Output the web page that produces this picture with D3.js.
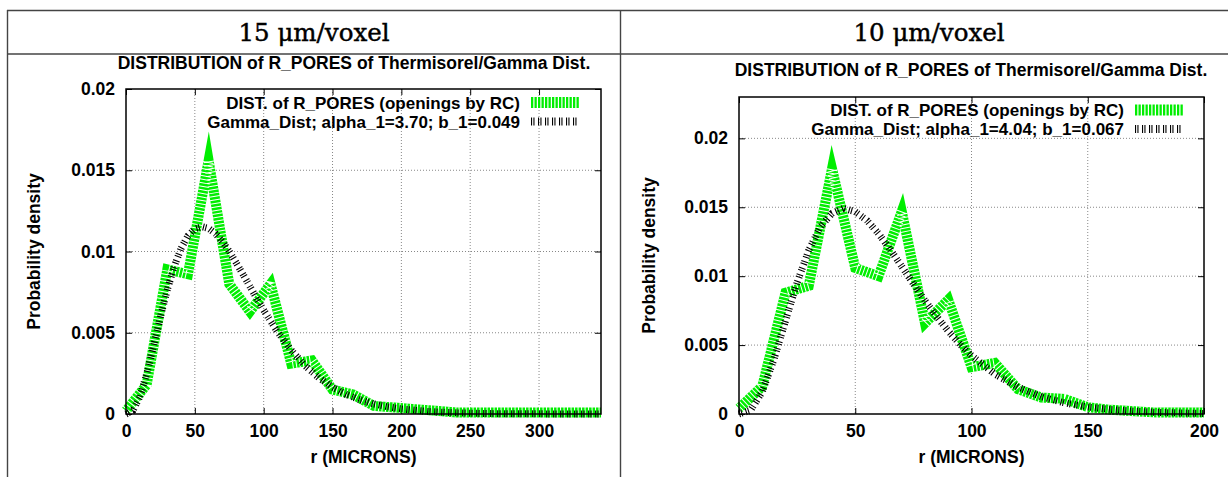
<!DOCTYPE html>
<html><head><meta charset="utf-8">
<script src="https://cdn.jsdelivr.net/npm/d3@7"></script>
<style>
body{margin:0;background:#fff;}
svg{display:block;}
.g text{font-family:"Liberation Sans",Arial,sans-serif;font-weight:bold;fill:#000;}
</style></head><body>
<svg id="c" width="1228" height="477"></svg>
<script>
// ---------- data ----------
const headers = ["15 \u03bcm/voxel", "10 \u03bcm/voxel"];
const chartTitle = "DISTRIBUTION of R_PORES of Thermisorel/Gamma Dist.";
const xLabel = "r (MICRONS)";
const yLabel = "Probability density";
const legendDist = "DIST. of R_PORES (openings by RC)";
const legendGammaL = "Gamma_Dist; alpha_1=3.70; b_1=0.049";
const legendGammaR = "Gamma_Dist; alpha_1=4.04; b_1=0.067";

// left panel (15 um/voxel)
const distX_L = [0,15,30,45,60,75,90,105,120,135,150,165,180,195,210,225,240,255,270,285,300,315,330,345];
const distY_L = [0.0002,0.0018,0.0089,0.0086,0.0156,0.0080,0.0063,0.0080,0.0031,0.0033,0.0015,0.0012,0.0005,0.0004,0.0003,0.0002,0.0001,0.0001,0.0001,0.0001,0.0001,0.0001,0.0001,0.0001];
const gamX_L = [0,5,10,15,20,25,30,35,40,45,50,55,60,65,70,75,80,85,90,95,100,110,120,130,140,150,160,170,180,190,200,220,240,260,280,300,320,345];
const gamY_L = [0,0.00021,0.00105,0.00245,0.00418,0.00597,0.00765,0.00907,0.01019,0.01097,0.01140,0.01153,0.01142,0.01110,0.01061,0.01000,0.00931,0.00859,0.00785,0.00711,0.00639,0.00506,0.00393,0.00298,0.00223,0.00165,0.00120,0.00087,0.00062,0.00044,0.00031,0.00015,0.00007,0.00003,0.00001,0.00001,0,0];
const xTicks_L = [0,50,100,150,200,250,300];
const yTicks_L = [0,0.005,0.01,0.015,0.02];

// right panel (10 um/voxel)
const distX_R = [0,10,20,30,40,50,60,70,80,90,100,110,120,130,140,150,160,170,180,190,200];
const distY_R = [0.0004,0.0020,0.0088,0.0093,0.0178,0.0106,0.0100,0.0147,0.0066,0.0083,0.0034,0.0037,0.0018,0.0012,0.0011,0.0005,0.0003,0.0002,0.0001,0.0001,0.0001];
const gamX_R = [0,5,10,15,20,25,30,35,40,45,50,55,60,65,70,75,80,85,90,95,100,110,120,130,140,150,160,170,180,190,200];
const gamY_R = [0,0.00027,0.00161,0.00395,0.00676,0.00954,0.01188,0.01358,0.01456,0.01492,0.01468,0.01405,0.01309,0.01194,0.01071,0.00945,0.00822,0.00707,0.00602,0.00507,0.00424,0.00290,0.00194,0.00126,0.00081,0.00051,0.00032,0.00020,0.00012,0.00007,0.00004];
const yTicks_R = [0,0.005,0.01,0.015,0.02];
const xTicks_R = [0,50,100,150,200];

// ---------- drawing ----------
const svg = d3.select("#c");
const GREEN = "#00ee00";
const FS = "17.5px";
const BLACK_DASH = "1.1,1.3,1.1,3.5";

// table frame
const tbl = svg.append("g").attr("stroke","#444").attr("stroke-width",1.4).attr("fill","none");
tbl.append("line").attr("x1",7).attr("x2",1228).attr("y1",10.5).attr("y2",10.5);
tbl.append("line").attr("x1",7).attr("x2",1228).attr("y1",54).attr("y2",54);
tbl.append("line").attr("x1",7.5).attr("x2",7.5).attr("y1",10).attr("y2",477);
tbl.append("line").attr("x1",620.5).attr("x2",620.5).attr("y1",10).attr("y2",477);
[[314,headers[0]],[929,headers[1]]].forEach(([cx,t])=>{
  svg.append("text").attr("x",cx).attr("y",41).attr("text-anchor","middle")
    .style("font-family","'DejaVu Serif',serif").style("font-size","24.5px")
    .attr("stroke","#000").attr("stroke-width",0.45).text(t);
});

function panel(o){
  const g = svg.append("g").attr("class","g");
  const x = d3.scaleLinear().domain(o.xDom).range([o.left,o.right]);
  const y = d3.scaleLinear().domain(o.yDom).range([o.bottom,o.top]);
  // grid
  const grid = g.append("g").attr("stroke","#888").attr("stroke-width",1).attr("stroke-dasharray","1,2");
  o.xTicks.forEach(t=>{ if(x(t)>o.left+2 && x(t)<o.right-2) grid.append("line").attr("x1",x(t)).attr("x2",x(t)).attr("y1",o.top).attr("y2",o.bottom);});
  o.yTicks.forEach(t=>{ if(y(t)<o.bottom-2 && y(t)>o.top+2) grid.append("line").attr("y1",y(t)).attr("y2",y(t)).attr("x1",o.left).attr("x2",o.right);});
  // axes via d3
  const ax = g.append("g").attr("transform",`translate(0,${o.bottom})`)
    .call(d3.axisBottom(x).tickValues(o.xTicks).tickSize(-6).tickPadding(11).tickFormat(d3.format("d")));
  const ay = g.append("g").attr("transform",`translate(${o.left},0)`)
    .call(d3.axisLeft(y).tickValues(o.yTicks).tickSize(-6).tickPadding(11).tickFormat(d=>d===0?"0":String(+d.toFixed(3))));
  const axT = g.append("g").attr("transform",`translate(0,${o.top})`)
    .call(d3.axisTop(x).tickValues(o.xTicks).tickSize(-6).tickFormat(""));
  const ayR = g.append("g").attr("transform",`translate(${o.right},0)`)
    .call(d3.axisRight(y).tickValues(o.yTicks).tickSize(-6).tickFormat(""));
  [ax,ay,axT,ayR].forEach(a=>{a.select(".domain").remove(); a.selectAll("line").attr("stroke","#000").attr("stroke-width",1);
    a.selectAll("text").style("font-family","'Liberation Sans',Arial,sans-serif").style("font-weight","bold").style("font-size",FS);});
  // curves
  const clip = "clip"+o.id;
  svg.append("clipPath").attr("id",clip).append("rect").attr("x",o.left-8).attr("y",o.top).attr("width",o.right-o.left+8).attr("height",o.bottom-o.top+8);
  const line = d3.line().x(d=>x(d[0])).y(d=>y(d[1]));
  const dpts = o.dx.map((v,i)=>[v,o.dy[i]]);
  g.append("path").attr("clip-path",`url(#${clip})`).datum(dpts).attr("d",line)
    .attr("fill","none").attr("stroke",GREEN).attr("stroke-width",10).attr("stroke-linejoin","miter").attr("stroke-miterlimit",10);
  g.append("path").attr("clip-path",`url(#${clip})`).datum(dpts).attr("d",line)
    .attr("fill","none").attr("stroke","#fff").attr("stroke-width",10.6).attr("stroke-linejoin","bevel").attr("stroke-dasharray","1,2.5").attr("stroke-dashoffset",-1.2);
  g.append("path").attr("clip-path",`url(#${clip})`).datum(o.gx.map((v,i)=>[v,o.gy[i]])).attr("d",line)
    .attr("fill","none").attr("stroke","#000").attr("stroke-width",7).attr("stroke-dasharray",BLACK_DASH);
  // border
  g.append("rect").attr("x",o.left).attr("y",o.top).attr("width",o.right-o.left).attr("height",o.bottom-o.top)
    .attr("fill","none").attr("stroke","#000").attr("stroke-width",1.5);
  // labels
  g.append("text").attr("x",o.titleX).attr("y",o.titleY).attr("text-anchor","middle").style("font-size",FS).text(chartTitle);
  g.append("text").attr("x",(o.left+o.right)/2).attr("y",o.bottom+49).attr("text-anchor","middle").style("font-size",FS).text(xLabel);
  g.append("text").attr("transform",`translate(${o.ylabX},${(o.top+o.bottom)/2}) rotate(-90)`).attr("text-anchor","middle").style("font-size",FS).text(yLabel);
  // legend
  g.append("text").attr("x",o.legX).attr("y",o.legY+5.5).attr("text-anchor","end").style("font-size","17px").text(legendDist);
  g.append("text").attr("x",o.legX).attr("y",o.legY+24.5).attr("text-anchor","end").style("font-size","17px").text(o.legG);
  g.append("line").attr("x1",o.legX+11).attr("x2",o.legX+59).attr("y1",o.legY-0.5).attr("y2",o.legY-0.5)
    .attr("stroke",GREEN).attr("stroke-width",11).attr("stroke-dasharray","2.3,1.2");
  g.append("line").attr("x1",o.legX+11).attr("x2",o.legX+59).attr("y1",o.legY+18.5).attr("y2",o.legY+18.5)
    .attr("stroke","#000").attr("stroke-width",8).attr("stroke-dasharray",BLACK_DASH);
}

panel({id:"L",xDom:[0,345],yDom:[0,0.02],left:126,right:601,top:89,bottom:414,
  xTicks:xTicks_L,yTicks:yTicks_L,dx:distX_L,dy:distY_L,gx:gamX_L,gy:gamY_L,
  titleX:354,titleY:69,ylabX:40,legX:520,legY:103,legG:legendGammaL});
panel({id:"R",xDom:[0,200],yDom:[0,0.023],left:739,right:1204,top:97,bottom:414,
  xTicks:xTicks_R,yTicks:yTicks_R,dx:distX_R,dy:distY_R,gx:gamX_R,gy:gamY_R,
  titleX:971,titleY:76,ylabX:655,legX:1124,legY:110.5,legG:legendGammaR});
</script></body></html>
